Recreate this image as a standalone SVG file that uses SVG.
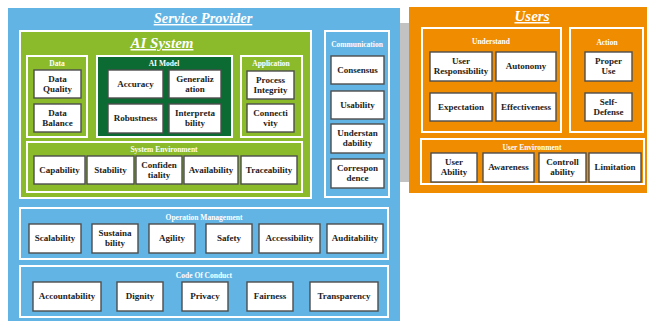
<svg xmlns="http://www.w3.org/2000/svg" width="647" height="322" viewBox="0 0 647 322">
<style>
.nd{fill:#fff;stroke:#4d4d4d;stroke-width:1.4}
.grp{stroke:#fff;stroke-width:2}
.t{font-family:"Liberation Serif","Times New Roman",serif;font-weight:bold;font-size:9px;fill:#222;text-anchor:middle}
.lb{font-family:"Liberation Serif","Times New Roman",serif;font-weight:bold;font-size:7.5px;fill:#fff;text-anchor:middle}
.ti{font-family:"Liberation Serif","Times New Roman",serif;font-weight:bold;font-style:italic;fill:#fff;text-anchor:middle;text-decoration:underline}
</style>
<rect width="647" height="322" fill="#fff"/>
<g id="service-provider">
<rect x="8" y="8" width="392" height="313" fill="#62b4e4"/>
<text class="ti" x="203" y="23" font-size="14.5">Service Provider</text>
</g>
<rect x="400" y="23" width="9" height="159" fill="#c2c2c2"/>
<g id="users">
<rect x="409" y="7" width="238" height="186" fill="#ef8c00"/>
<text class="ti" x="532" y="21" font-size="15">Users</text>
</g>
<g id="ai-system">
<rect class="grp" x="20" y="31" width="291" height="167" fill="#8bbb2a"/>
<text class="ti" x="162" y="48" font-size="15">AI System</text>
</g>
<g id="data">
<rect class="grp" x="27" y="56" width="60" height="81" fill="#8bbb2a"/>
<text class="lb" x="57" y="66">Data</text>
</g>
<g id="ai-model">
<rect class="grp" x="97" y="56" width="135" height="81" fill="#0b6b33"/>
<text class="lb" x="164" y="66">AI Model</text>
</g>
<g id="application">
<rect class="grp" x="241" y="56" width="61" height="81" fill="#8bbb2a"/>
<text class="lb" x="271" y="66">Application</text>
</g>
<g id="system-environment">
<rect class="grp" x="27" y="142" width="275" height="50" fill="#8bbb2a"/>
<text class="lb" x="164" y="152">System Environment</text>
</g>
<g id="communication">
<rect class="grp" x="325" y="31" width="64" height="166" fill="#62b4e4"/>
<text class="lb" x="357" y="47">Communication</text>
</g>
<g id="operation-management">
<rect class="grp" x="20" y="208" width="368" height="51" fill="#62b4e4"/>
<text class="lb" x="204" y="220">Operation Management</text>
</g>
<g id="code-of-conduct">
<rect class="grp" x="20" y="266" width="368" height="51" fill="#62b4e4"/>
<text class="lb" x="204" y="278">Code Of Conduct</text>
</g>
<g id="understand">
<rect class="grp" x="422" y="28" width="139" height="104" fill="#ef8c00"/>
<text class="lb" x="491" y="44">Understand</text>
</g>
<g id="action">
<rect class="grp" x="570" y="28" width="73" height="104" fill="#ef8c00"/>
<text class="lb" x="607" y="45">Action</text>
</g>
<g id="user-environment">
<rect class="grp" x="421" y="139" width="223" height="45" fill="#ef8c00"/>
<text class="lb" x="532" y="150">User Environment</text>
</g>
<g id="connectors"></g>
<g id="data-quality"><rect class="nd" x="34" y="70" width="47" height="28"/><text class="t" x="57.5" y="82">Data</text><text class="t" x="57.5" y="92">Quality</text></g>
<g id="data-balance"><rect class="nd" x="34" y="104" width="47" height="28"/><text class="t" x="57.5" y="116">Data</text><text class="t" x="57.5" y="126">Balance</text></g>
<g id="accuracy"><rect class="nd" x="108" y="70" width="55" height="28"/><text class="t" x="135.5" y="87">Accuracy</text></g>
<g id="generalization"><rect class="nd" x="169" y="70" width="52" height="28"/><text class="t" x="195" y="82">Generaliz</text><text class="t" x="195" y="92">ation</text></g>
<g id="robustness"><rect class="nd" x="108" y="104" width="55" height="29"/><text class="t" x="135.5" y="121">Robustness</text></g>
<g id="interpretability"><rect class="nd" x="169" y="104" width="52" height="29"/><text class="t" x="195" y="116">Interpreta</text><text class="t" x="195" y="126">bility</text></g>
<g id="process-integrity"><rect class="nd" x="247" y="71" width="47" height="28"/><text class="t" x="270.5" y="83">Process</text><text class="t" x="270.5" y="93">Integrity</text></g>
<g id="connectivity"><rect class="nd" x="247" y="104" width="47" height="28"/><text class="t" x="270.5" y="116">Connecti</text><text class="t" x="270.5" y="126">vity</text></g>
<g id="capability"><rect class="nd" x="34" y="156" width="51" height="28"/><text class="t" x="59.5" y="173">Capability</text></g>
<g id="stability"><rect class="nd" x="87" y="156" width="47" height="28"/><text class="t" x="110.5" y="173">Stability</text></g>
<g id="confidentiality"><rect class="nd" x="136" y="156" width="46" height="28"/><text class="t" x="159" y="168">Confiden</text><text class="t" x="159" y="178">tiality</text></g>
<g id="availability"><rect class="nd" x="184" y="156" width="54" height="28"/><text class="t" x="211" y="173">Availability</text></g>
<g id="traceability"><rect class="nd" x="241" y="156" width="56" height="28"/><text class="t" x="269" y="173">Traceability</text></g>
<g id="consensus"><rect class="nd" x="331" y="56" width="53" height="28"/><text class="t" x="357.5" y="73">Consensus</text></g>
<g id="usability"><rect class="nd" x="331" y="91" width="53" height="28"/><text class="t" x="357.5" y="108">Usability</text></g>
<g id="understandability"><rect class="nd" x="331" y="124" width="53" height="29"/><text class="t" x="357.5" y="136">Understan</text><text class="t" x="357.5" y="146">dability</text></g>
<g id="correspondence"><rect class="nd" x="331" y="159" width="53" height="29"/><text class="t" x="357.5" y="171">Correspon</text><text class="t" x="357.5" y="181">dence</text></g>
<g id="scalability"><rect class="nd" x="29" y="224" width="52" height="29"/><text class="t" x="55" y="241">Scalability</text></g>
<g id="sustainability"><rect class="nd" x="92" y="224" width="46" height="29"/><text class="t" x="115" y="236">Sustaina</text><text class="t" x="115" y="246">bility</text></g>
<g id="agility"><rect class="nd" x="149" y="224" width="46" height="29"/><text class="t" x="172" y="241">Agility</text></g>
<g id="safety"><rect class="nd" x="206" y="224" width="46" height="29"/><text class="t" x="229" y="241">Safety</text></g>
<g id="accessibility"><rect class="nd" x="259" y="224" width="61" height="29"/><text class="t" x="289.5" y="241">Accessibility</text></g>
<g id="auditability"><rect class="nd" x="327" y="224" width="56" height="29"/><text class="t" x="355" y="241">Auditability</text></g>
<g id="accountability"><rect class="nd" x="33" y="282" width="68" height="29"/><text class="t" x="67" y="299">Accountability</text></g>
<g id="dignity"><rect class="nd" x="117" y="282" width="46" height="29"/><text class="t" x="140" y="299">Dignity</text></g>
<g id="privacy"><rect class="nd" x="182" y="282" width="46" height="29"/><text class="t" x="205" y="299">Privacy</text></g>
<g id="fairness"><rect class="nd" x="247" y="282" width="46" height="29"/><text class="t" x="270" y="299">Fairness</text></g>
<g id="transparency"><rect class="nd" x="310" y="282" width="68" height="29"/><text class="t" x="344" y="299">Transparency</text></g>
<g id="user-responsibility"><rect class="nd" x="430" y="52" width="62" height="29"/><text class="t" x="461" y="64">User</text><text class="t" x="461" y="74">Responsibility</text></g>
<g id="autonomy"><rect class="nd" x="496" y="52" width="60" height="29"/><text class="t" x="526" y="69">Autonomy</text></g>
<g id="expectation"><rect class="nd" x="430" y="93" width="62" height="28"/><text class="t" x="461" y="110">Expectation</text></g>
<g id="effectiveness"><rect class="nd" x="496" y="93" width="60" height="28"/><text class="t" x="526" y="110">Effectiveness</text></g>
<g id="proper-use"><rect class="nd" x="585" y="52" width="47" height="29"/><text class="t" x="608.5" y="64">Proper</text><text class="t" x="608.5" y="74">Use</text></g>
<g id="self-defense"><rect class="nd" x="585" y="93" width="47" height="28"/><text class="t" x="608.5" y="105">Self-</text><text class="t" x="608.5" y="115">Defense</text></g>
<g id="user-ability"><rect class="nd" x="431" y="153" width="46" height="29"/><text class="t" x="454" y="165">User</text><text class="t" x="454" y="175">Ability</text></g>
<g id="awareness"><rect class="nd" x="483" y="153" width="51" height="29"/><text class="t" x="508.5" y="170">Awareness</text></g>
<g id="controllability"><rect class="nd" x="539" y="153" width="47" height="29"/><text class="t" x="562.5" y="165">Controll</text><text class="t" x="562.5" y="175">ability</text></g>
<g id="limitation"><rect class="nd" x="589" y="153" width="52" height="29"/><text class="t" x="615" y="170">Limitation</text></g>
</svg>
